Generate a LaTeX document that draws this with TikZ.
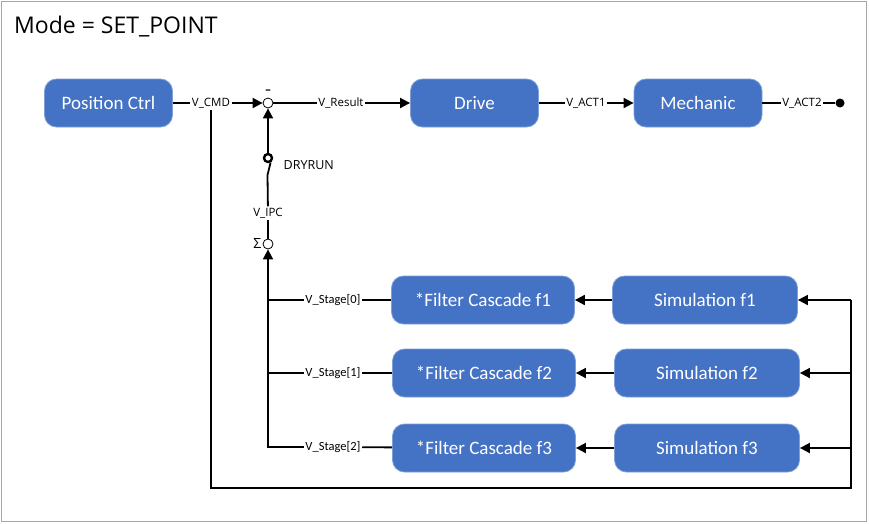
\documentclass[tikz,border=0pt]{standalone}
\usepackage{fontspec}
\setmainfont{Open Sans}
\newfontfamily\boxfont{Carlito}
\usetikzlibrary{arrows.meta}
\definecolor{boxblue}{HTML}{4472C4}
\definecolor{boxedge}{HTML}{7F9FD8}
\begin{document}
\begin{tikzpicture}[x=1pt,y=-1pt,
 blk/.style={rectangle, rounded corners=12pt, fill=boxblue, draw=boxedge, line width=0.8pt, text=white, font=\boxfont\fontsize{19}{21}\selectfont, minimum height=48pt, inner sep=0pt},
 lbl/.style={font=\fontsize{11.5}{13}\selectfont, inner sep=1.5pt},
 slbl/.style={font=\boxfont\fontsize{12.5}{14}\selectfont, inner sep=1.5pt},
 conn/.style={line width=1.8pt},
 arr/.style={conn, -{Triangle[length=10pt,width=10pt]}},
 sumj/.style={circle, draw, line width=0.8pt, minimum size=10pt, inner sep=0pt, fill=white}
]
\useasboundingbox (0,0) rectangle (869,523);
\draw[gray!70, line width=1pt] (1,1) rectangle (866.5,521.5);

\node[font=\fontsize{23}{26}\selectfont, anchor=base west, inner sep=0pt] (title) at (14,33) {Mode = SET\_POINT};

% top row
\node[blk, minimum width=128pt] (pos) at (108.5,103) {Position Ctrl};
\node[blk, minimum width=128pt] (drive) at (474.5,103) {Drive};
\node[blk, minimum width=128pt] (mech) at (698,103) {Mechanic};
\node[sumj] (s1) at (268,103) {};
\node[font=\bfseries\fontsize{11}{12}\selectfont, inner sep=0pt] (minus) at (268,92) {–};
\node[lbl] (cmd) at (211,103) {V\_CMD};
\node[lbl] (res) at (341,103) {V\_Result};
\node[lbl] (act1) at (586,103) {V\_ACT1};
\node[lbl] (act2) at (802,103) {V\_ACT2};
\node[circle, fill, inner sep=0pt, minimum size=9pt] (end) at (840,103) {};

\draw[conn] (pos) -- (cmd);
\draw[arr] (cmd) -- (s1);
\draw[conn] (s1) -- (res);
\draw[arr] (res) -- (drive);
\draw[conn] (drive) -- (act1);
\draw[arr] (act1) -- (mech);
\draw[conn] (mech) -- (act2) -- (end);

% switch and sum
\node[circle, draw, line width=2.4pt, inner sep=0pt, minimum size=8pt, fill=white] (ring) at (268,158) {};
\node[lbl, anchor=west, font=\fontsize{12.5}{14}\selectfont] (dry) at (282,165) {DRYRUN};
\coordinate (swb) at (267.5,175);
\node[lbl] (ipc) at (268,213) {V\_IPC};
\node[sumj] (s2) at (268,244) {};
\node[lbl, anchor=east, font=\fontsize{14}{16}\selectfont] (sigma) at (263,243) {Σ};
\draw[arr] (ring) -- (s1);
\draw[conn] (ring.-60) -- (swb) -- (ipc);
\draw[conn] (ipc) -- (s2);

% filters and simulations
\node[blk, minimum width=183pt] (f1) at (483,300) {*Filter Cascade f1};
\node[blk, minimum width=183pt] (f2) at (484,373) {*Filter Cascade f2};
\node[blk, minimum width=183pt] (f3) at (484,448) {*Filter Cascade f3};
\node[blk, minimum width=185pt] (sim1) at (705,300) {Simulation f1};
\node[blk, minimum width=185pt] (sim2) at (707,373) {Simulation f2};
\node[blk, minimum width=185pt] (sim3) at (707,448) {Simulation f3};

\node[slbl] (st0) at (333,300) {V\_Stage[0]};
\node[slbl] (st1) at (333,373) {V\_Stage[1]};
\node[slbl] (st2) at (333,447) {V\_Stage[2]};
\coordinate (b1) at (268,300);
\coordinate (b2) at (268,373);
\coordinate (b3) at (268,447);

\draw[conn] (b1) -- (st0) -- (f1);
\draw[conn] (b2) -- (st1) -- (f2);
\draw[arr] (st2) -- (b3) -- (s2);
\draw[conn] (st2) -- (f3);

\draw[arr] (sim1) -- (f1);
\draw[arr] (sim2) -- (f2);
\draw[arr] (sim3) -- (f3);

% feedback
\coordinate (fbr) at (851,488);
\coordinate (r1) at (851,300);
\coordinate (r2) at (851,373);
\coordinate (r3) at (851,448);
\draw[conn] (cmd) -- (cmd |- fbr) -- (fbr) -- (r1);
\draw[arr] (r1) -- (sim1);
\draw[arr] (r2) -- (sim2);
\draw[arr] (r3) -- (sim3);
\end{tikzpicture}
\end{document}
